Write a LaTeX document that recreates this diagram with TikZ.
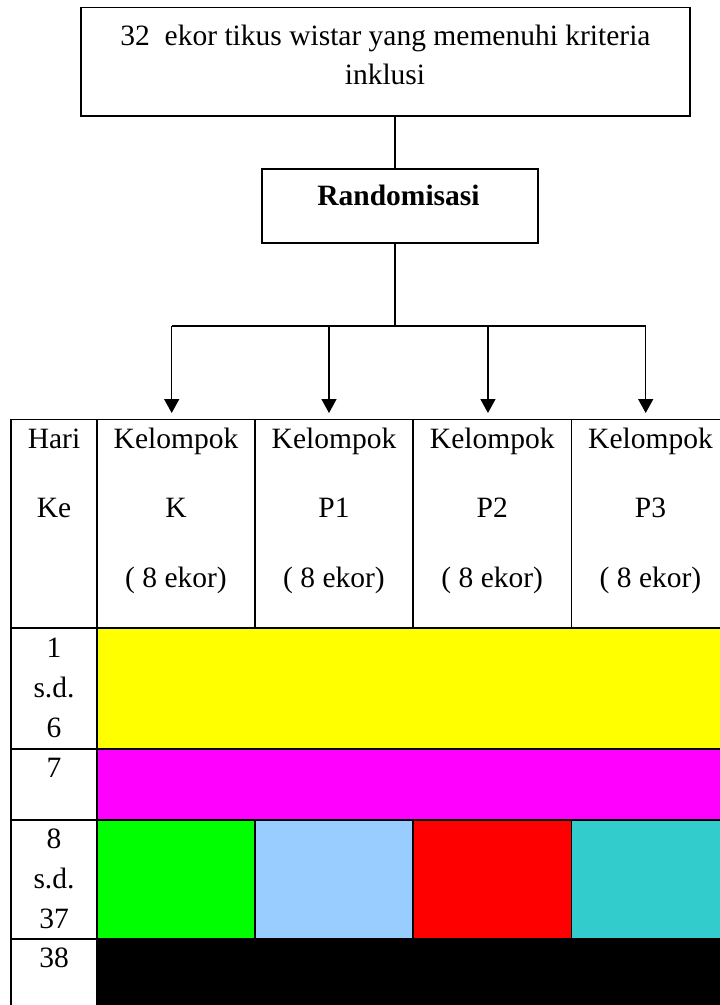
\documentclass[tikz,border=0pt]{standalone}
\usepackage{fontspec}
\setmainfont{Liberation Serif}
\usetikzlibrary{arrows.meta}
\definecolor{cyel}{RGB}{255,255,0}
\definecolor{cmag}{RGB}{255,0,255}
\definecolor{cgrn}{RGB}{0,255,0}
\definecolor{cblu}{RGB}{153,204,255}
\definecolor{cred}{RGB}{255,0,0}
\definecolor{ctea}{RGB}{51,204,204}
\begin{document}
\begin{tikzpicture}[x=1pt,y=-1pt,
  box/.style={draw,line width=1.5pt,inner sep=0pt,outer sep=0pt},
  cell/.style={draw,line width=1.8pt,inner sep=0pt,outer sep=0pt,anchor=north west},
  lbl/.style={anchor=base,inner sep=0pt,font=\fontsize{29.5}{34}\selectfont},
  conn/.style={line width=1.5pt},
  arr/.style={line width=1.5pt,-{Triangle[width=15pt,length=14pt]}}]
\useasboundingbox (0,0) rectangle (720,1005);
\clip (0,0) rectangle (720,1005);
% boxes
\node[box,minimum width=609pt,minimum height=108.5pt] (top) at (385.4,61.5) {};
\node[box,minimum width=276pt,minimum height=74pt] (rnd) at (400,206) {};
\node[lbl] (t1) at (385.5,45) {32\ \ ekor tikus wistar yang memenuhi kriteria};
\node[lbl] (t2) at (385,84.3) {inklusi};
\node[lbl,font=\fontsize{29.5}{34}\selectfont\bfseries] (t3) at (398.5,205.7) {Randomisasi};
% table header
\node[cell,minimum width=86pt,minimum height=208.5pt] (hH) at (11,419.5) {};
\node[cell,minimum width=158pt,minimum height=208.5pt] (hK) at (97,419.5) {};
\node[cell,minimum width=158pt,minimum height=208.5pt] (hP1) at (255,419.5) {};
\node[cell,minimum width=158.5pt,minimum height=208.5pt] (hP2) at (413,419.5) {};
\node[cell,minimum width=158pt,minimum height=208.5pt] (hP3) at (571.5,419.5) {};
% rows
\node[cell,minimum width=86pt,minimum height=121pt] (r1l) at (11,628) {};
\node[cell,fill=cyel,minimum width=632.5pt,minimum height=121pt] (r1) at (97,628) {};
\node[cell,minimum width=86pt,minimum height=71pt] (r2l) at (11,749) {};
\node[cell,fill=cmag,minimum width=632.5pt,minimum height=71pt] (r2) at (97,749) {};
\node[cell,minimum width=86pt,minimum height=119pt] (r3l) at (11,820) {};
\node[cell,fill=cgrn,minimum width=158pt,minimum height=119pt] (gK) at (97,820) {};
\node[cell,fill=cblu,minimum width=158pt,minimum height=119pt] (gP1) at (255,820) {};
\node[cell,fill=cred,minimum width=158.5pt,minimum height=119pt] (gP2) at (413,820) {};
\node[cell,fill=ctea,minimum width=158pt,minimum height=119pt] (gP3) at (571.5,820) {};
\node[cell,minimum width=86pt,minimum height=80pt] (r4l) at (11,939) {};
\node[cell,fill=black,minimum width=632.5pt,minimum height=80pt] (r4) at (97,939) {};
% header texts
\node[lbl] (hari) at (54,448) {Hari};
\node[lbl] (ke) at (54,517) {Ke};
\foreach \n/\x/\g in {a/176/K,b/334/P1,c/492.25/P2,d/650.5/P3}{
  \node[lbl] (kel\n) at (\x,448) {Kelompok};
  \node[lbl] (grp\n) at (\x,517) {\g};
  \node[lbl] (jml\n) at (\x,587) {( 8 ekor)};
}
% row labels
\node[lbl] (d1) at (54,657) {1};
\node[lbl] (d2) at (54,697) {s.d.};
\node[lbl] (d3) at (54,737) {6};
\node[lbl] (d4) at (54,777) {7};
\node[lbl] (d5) at (54,848) {8};
\node[lbl] (d6) at (54,888) {s.d.};
\node[lbl] (d7) at (54,928) {37};
\node[lbl] (d8) at (54,967) {38};
% connectors
\coordinate (spine) at (395,326);
\draw[conn] (top.south -| spine) -- (rnd.north -| spine);
\draw[conn] (rnd.south -| spine) -- (spine);
\coordinate (aK) at ([xshift=-4.3pt]hK.north);
\coordinate (aP1) at ([xshift=-5pt]hP1.north);
\coordinate (aP2) at ([xshift=-4.3pt]hP2.north);
\coordinate (aP3) at ([xshift=-4.8pt]hP3.north);
\draw[conn] (aK |- spine) -- (aP3 |- spine);
\foreach \c in {aK,aP1,aP2,aP3}{
  \draw[arr] (\c |- spine) -- ([yshift=6.5pt]\c);
}
\end{tikzpicture}
\end{document}
